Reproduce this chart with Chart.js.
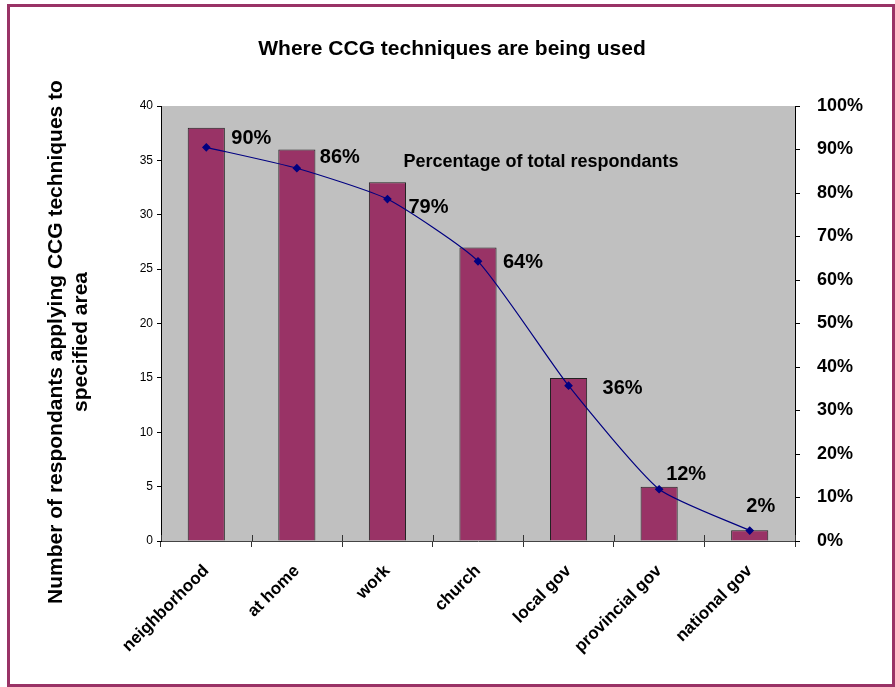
<!DOCTYPE html>
<html><head><meta charset="utf-8">
<script src="https://cdn.jsdelivr.net/npm/chart.js@4"></script>
<style>
html,body{margin:0;padding:0;background:#fff;}
#wrap{position:relative;width:895px;height:687px;overflow:hidden;}
#frame{position:absolute;left:7px;top:4px;width:888px;height:683px;box-sizing:border-box;border:3px solid #993366;pointer-events:none;}
canvas{position:absolute;left:0;top:0;}
</style></head><body>
<div id="wrap"><canvas id="c" width="895" height="687"></canvas><div id="frame"></div></div>
<script>
const categories = ['neighborhood','at home','work','church','local gov','provincial gov','national gov'];
const respondentCounts = [38, 36, 33, 27, 15, 5, 1];
const percentOfTotal = [90.5, 85.7, 78.6, 64.3, 35.7, 11.9, 2.4];
const percentLabels = ['90%', '86%', '79%', '64%', '36%', '12%', '2%'];
const chartTitle = 'Where CCG techniques are being used';
const yTitleLines = ['Number of respondants applying CCG techniques to', 'specified area'];
const lineNote = 'Percentage of total respondants';

const FONT = '"Liberation Sans", Arial, sans-serif';
const labelOffsets = [[45,-9],[43,-11],[41,8],[45,1],[54,3],[27,-15],[11,-24]];

const decor = {
  id: 'decor',
  beforeDraw(chart) {
    const {ctx, chartArea: a} = chart;
    ctx.save();
    ctx.fillStyle = '#C0C0C0';
    ctx.fillRect(a.left, a.top, a.right - a.left, a.bottom - a.top);
    ctx.restore();
  },
  afterDraw(chart) {
    const {ctx, chartArea: a} = chart;
    ctx.save();
    ctx.fillStyle = '#000';
    ctx.textAlign = 'center';
    ctx.textBaseline = 'middle';
    // x-axis tick marks crossing into the plot
    const xs = chart.scales.x;
    ctx.strokeStyle = '#333';
    ctx.lineWidth = 1;
    for (let i = 0; i <= categories.length; i++) {
      const x = Math.round(xs.getPixelForValue(i - 0.5)) + 0.5;
      ctx.beginPath();
      ctx.moveTo(x, a.bottom - 6);
      ctx.lineTo(x, a.bottom);
      ctx.stroke();
    }
    // title
    ctx.font = 'bold 21px ' + FONT;
    ctx.fillText(chartTitle, 452, 49);
    // y title
    ctx.save();
    ctx.translate(56, 342);
    ctx.rotate(-Math.PI / 2);
    ctx.font = 'bold 21px ' + FONT;
    ctx.fillText(yTitleLines[0], 0, 0);
    ctx.fillText(yTitleLines[1], 0, 25);
    ctx.restore();
    // note
    ctx.font = 'bold 18px ' + FONT;
    ctx.fillText(lineNote, 541, 162);
    // point labels
    const meta = chart.getDatasetMeta(1);
    ctx.font = 'bold 20px ' + FONT;
    meta.data.forEach((p, i) => {
      const o = labelOffsets[i];
      ctx.fillText(percentLabels[i], p.x + o[0], p.y + o[1]);
    });
    ctx.restore();
  }
};

new Chart(document.getElementById('c'), {
  data: {
    labels: categories,
    datasets: [
      {
        type: 'bar',
        data: respondentCounts,
        yAxisID: 'y',
        backgroundColor: '#993366',
        borderColor: '#222',
        borderWidth: 1,
        barPercentage: 0.41,
        categoryPercentage: 1,
        order: 2
      },
      {
        type: 'line',
        data: percentOfTotal,
        yAxisID: 'y1',
        borderColor: '#000080',
        borderWidth: 1.2,
        pointStyle: 'rectRot',
        pointRadius: 3.5,
        pointBackgroundColor: '#000080',
        pointBorderColor: '#000080',
        tension: 0.18,
        order: 1
      }
    ]
  },
  options: {
    responsive: false,
    devicePixelRatio: 1,
    animation: false,
    layout: {padding: {top: 106, left: 0, right: 0, bottom: 0}},
    plugins: {legend: {display: false}, title: {display: false}, tooltip: {enabled: false}},
    scales: {
      x: {
        offset: true,
        grid: {display: true, drawOnChartArea: false, offset: true, color: '#333', tickLength: 6},
        border: {display: true, color: '#444', width: 1},
        ticks: {color: '#000', font: {family: FONT, size: 17, weight: 'bold'}, minRotation: 45, maxRotation: 45, padding: 14, autoSkip: false},
        afterFit(s) { s.height = 146; }
      },
      y: {
        position: 'left',
        min: 0, max: 40,
        ticks: {stepSize: 5, color: '#000', font: {family: FONT, size: 12}, padding: 4},
        grid: {display: true, drawOnChartArea: false, color: '#000', tickLength: 4},
        border: {display: true, color: '#000', width: 1},
        afterFit(s) { s.width = 161; }
      },
      y1: {
        position: 'right',
        min: 0, max: 100,
        ticks: {stepSize: 10, color: '#000', font: {family: FONT, size: 18, weight: 'bold'}, padding: 17, callback: v => v + '%'},
        grid: {display: true, drawOnChartArea: false, color: '#000', tickLength: 5},
        border: {display: true, color: '#000', width: 1},
        afterFit(s) { s.width = 100; }
      }
    }
  },
  plugins: [decor]
});
</script>
</body></html>
